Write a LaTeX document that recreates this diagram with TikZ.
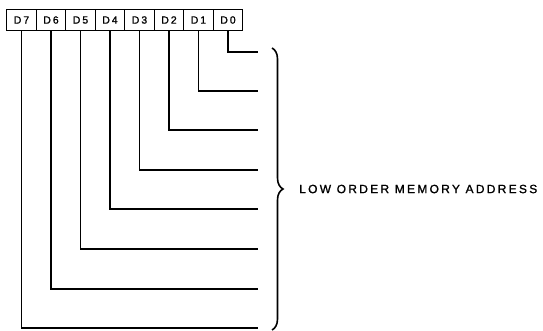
\documentclass[tikz,border=0pt]{standalone}
\usepackage{fontspec}
\setmainfont{Liberation Sans}
\newfontfamily\widefont[LetterSpace=19, FakeBold=1.2]{Liberation Sans}
\usetikzlibrary{positioning,decorations.pathreplacing}

\begin{document}
\begin{tikzpicture}[
  x=1pt, y=-1pt,
  bitbox/.style={draw, line width=1.2pt, minimum width=29.5pt, minimum height=21pt, inner sep=0pt, outer sep=0pt, font=\widefont\fontsize{10.5}{11}\selectfont},
  bitline/.style={line width=1.2pt},
  bracestyle/.style={decorate, decoration={brace, amplitude=11pt}, line width=1.6pt}
]
\useasboundingbox (0,0) rectangle (543,331);

% data bit register
\node[bitbox] (d7) at (21.5,20) {D7};
\node[bitbox, right=0pt of d7] (d6) {D6};
\node[bitbox, right=0pt of d6] (d5) {D5};
\node[bitbox, right=0pt of d5] (d4) {D4};
\node[bitbox, right=0pt of d4] (d3) {D3};
\node[bitbox, right=0pt of d3] (d2) {D2};
\node[bitbox, right=0pt of d2] (d1) {D1};
\node[bitbox, right=0pt of d1] (d0) {D0};

% address line ends
\coordinate (a0) at (258,52);
\coordinate (a1) at (258,91);
\coordinate (a2) at (258,130);
\coordinate (a3) at (258,170);
\coordinate (a4) at (258,209);
\coordinate (a5) at (258,249);
\coordinate (a6) at (258,289);
\coordinate (a7) at (258,328);

\draw[bitline] (d0.south) |- (a0);
\draw[bitline] (d1.south) |- (a1);
\draw[bitline] (d2.south) |- (a2);
\draw[bitline] (d3.south) |- (a3);
\draw[bitline] (d4.south) |- (a4);
\draw[bitline] (d5.south) |- (a5);
\draw[bitline] (d6.south) |- (a6);
\draw[bitline] (d7.south) |- (a7);

% brace and label
\coordinate (btop) at (272,48);
\coordinate (bbot) at (272,330);
\coordinate (btip) at (283,189);
\draw[bracestyle] (btop) -- (bbot);
\node[anchor=west, inner sep=0pt, font=\widefont\fontsize{12}{13}\selectfont] (addr) at ([xshift=16pt]btip) {LOW ORDER MEMORY ADDRESS};
\end{tikzpicture}
\end{document}
